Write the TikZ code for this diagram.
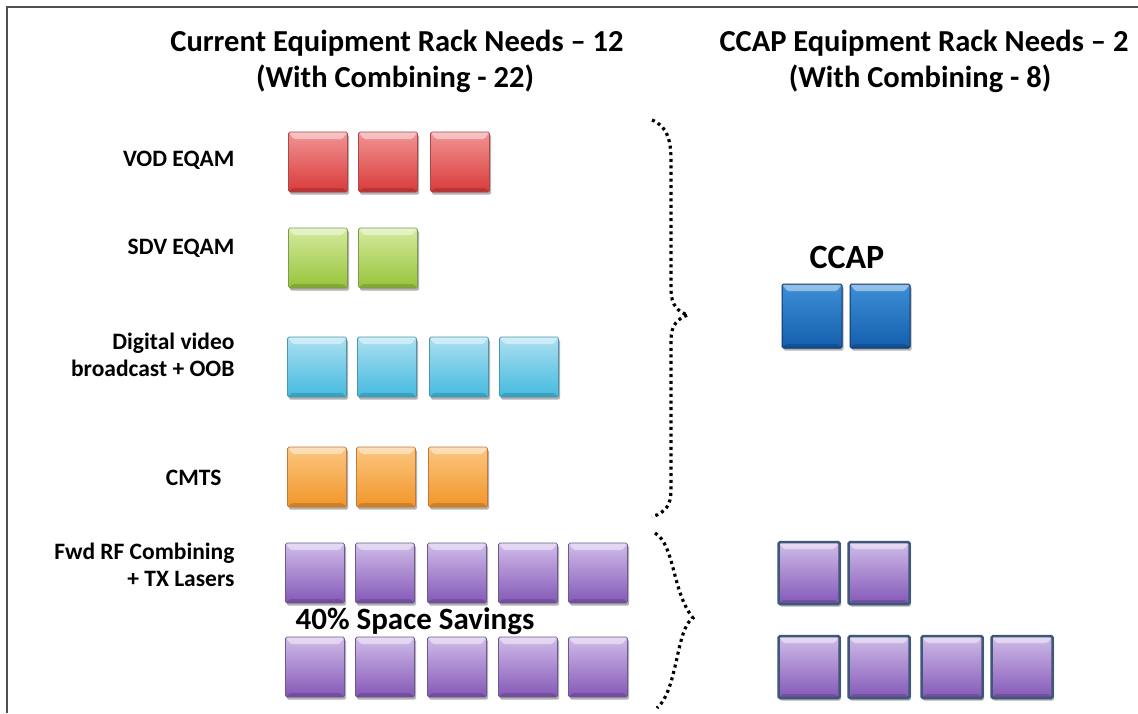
\documentclass[tikz,border=0pt]{standalone}
\usepackage{fontspec}
\setmainfont{Carlito}
\usetikzlibrary{shadows,calc}

\definecolor{redtop}{HTML}{F29494}\definecolor{redbot}{HTML}{D93A3A}\definecolor{rededge}{HTML}{A84848}
\definecolor{grntop}{HTML}{D4EA9E}\definecolor{grnbot}{HTML}{98C43A}\definecolor{grnedge}{HTML}{7E9A50}
\definecolor{cyntop}{HTML}{ACE0F1}\definecolor{cynbot}{HTML}{44BADF}\definecolor{cynedge}{HTML}{4A96AE}
\definecolor{orgtop}{HTML}{FBC680}\definecolor{orgbot}{HTML}{F2962A}\definecolor{orgedge}{HTML}{C07A3A}
\definecolor{purtop}{HTML}{D0BCE8}\definecolor{purbot}{HTML}{8458B8}\definecolor{puredge}{HTML}{6E5890}
\definecolor{blutop}{HTML}{3D8FD6}\definecolor{blubot}{HTML}{145EAE}\definecolor{bluedge}{HTML}{0A3566}
\definecolor{slateedge}{HTML}{3D5878}
\definecolor{framegray}{HTML}{505050}

\tikzset{
  rack/.style={minimum width=59pt, minimum height=60pt, inner sep=0pt,
    rounded corners=1.5pt, line width=0.7pt,
    drop shadow={shadow xshift=1.5pt, shadow yshift=-2.5pt, opacity=0.3, fill=black},
    path picture={
      \fill[white,opacity=0.45]
        (path picture bounding box.north west) -- (path picture bounding box.north east)
        -- ([xshift=-5pt,yshift=-7pt]path picture bounding box.north east)
        -- ([xshift=5pt,yshift=-7pt]path picture bounding box.north west) -- cycle;
      \fill[black,opacity=0.15]
        (path picture bounding box.south west) -- (path picture bounding box.south east)
        -- ([xshift=-4pt,yshift=4pt]path picture bounding box.south east)
        -- ([xshift=4pt,yshift=4pt]path picture bounding box.south west) -- cycle;
    }},
  redrack/.style={rack, top color=redtop, bottom color=redbot, draw=rededge},
  grnrack/.style={rack, top color=grntop, bottom color=grnbot, draw=grnedge},
  cynrack/.style={rack, top color=cyntop, bottom color=cynbot, draw=cynedge},
  orgrack/.style={rack, top color=orgtop, bottom color=orgbot, draw=orgedge},
  purrack/.style={rack, top color=purtop, bottom color=purbot, draw=puredge},
  blurack/.style={rack, minimum width=60pt, minimum height=64pt,
    top color=blutop, bottom color=blubot, draw=bluedge, line width=1pt},
  ccaprack/.style={rack, minimum width=61pt, minimum height=62pt,
    top color=purtop, bottom color=purbot, draw=slateedge, line width=2.5pt},
  head/.style={font=\bfseries\fontsize{30.5}{34}\selectfont, anchor=base},
  lbl/.style={font=\bfseries\fontsize{23.5}{27}\selectfont, align=right, anchor=east},
  brace/.style={line width=3.2pt, dash pattern=on 3pt off 3.6pt, black},
}

\begin{document}
\begin{tikzpicture}[x=1pt, y=-1pt]
\useasboundingbox (0,0) rectangle (1138,713);
\fill[white] (0,0) rectangle (1138,713);

% frame
\draw[framegray, line width=1.6pt] (7,713) -- (7,7) -- (1138,7);

% headings
\node[head] (curhead1) at (397,51) {Current Equipment Rack Needs – 12};
\node[head] (curhead2) at (395,87) {(With Combining - 22)};
\node[head] (ccaphead1) at (924,51) {CCAP Equipment Rack Needs – 2};
\node[head] (ccaphead2) at (920,87) {(With Combining - 8)};

% row labels
\node[lbl] (lvod)  at (238,160) {VOD EQAM};
\node[lbl] (lsdv)  at (238,248) {SDV EQAM};
\node[lbl] (ldvb)  at (238,355) {Digital video\\broadcast + OOB};
\node[lbl] (lcmts) at (225,478) {CMTS};
\node[lbl] (lfwd)  at (238,565) {Fwd RF Combining\\+ TX Lasers};

% current equipment
\node[redrack] (vod1) at (318,162) {};
\node[redrack] (vod2) at (388,162) {};
\node[redrack] (vod3) at (460,162) {};

\node[grnrack] (sdv1) at (318,258) {};
\node[grnrack] (sdv2) at (388,258) {};

\node[cynrack] (dvb1) at (317,367) {};
\node[cynrack] (dvb2) at (387,367) {};
\node[cynrack] (dvb3) at (459,367) {};
\node[cynrack] (dvb4) at (529,367) {};

\node[orgrack] (cmts1) at (317,477) {};
\node[orgrack] (cmts2) at (386,477) {};
\node[orgrack] (cmts3) at (458,477) {};

\foreach \i/\x in {1/315,2/385,3/457,4/528,5/598}{
  \node[purrack] (fwda\i) at (\x,573) {};
  \node[purrack] (fwdb\i) at (\x,667) {};
}

\node[font=\bfseries\fontsize{31}{34}\selectfont] (savings) at (415,621) {40\% Space Savings};

% CCAP side
\node[font=\bfseries\fontsize{34}{38}\selectfont] (ccaplabel) at (847,257) {CCAP};
\node[blurack] (ccap1) at (812,316) {};
\node[blurack] (ccap2) at (880,316) {};

\node[ccaprack] (ccfa1) at (809,573) {};
\node[ccaprack] (ccfa2) at (879,573) {};
\foreach \i/\x in {1/809,2/879,3/952,4/1022}{
  \node[ccaprack] (ccfb\i) at (\x,667) {};
}

% dotted braces
\draw[brace] (652,120) .. controls (667,126) and (671,140) .. (671,160)
  -- (671,290) .. controls (671,305) and (678,312) .. (688,315)
  .. controls (678,318) and (671,325) .. (671,340)
  -- (671,490) .. controls (671,505) and (666,512) .. (652,517);
\draw[brace] (655,533) .. controls (675,545) and (672,592) .. (693,618)
  .. controls (676,628) and (678,690) .. (657,708);
\end{tikzpicture}
\end{document}
